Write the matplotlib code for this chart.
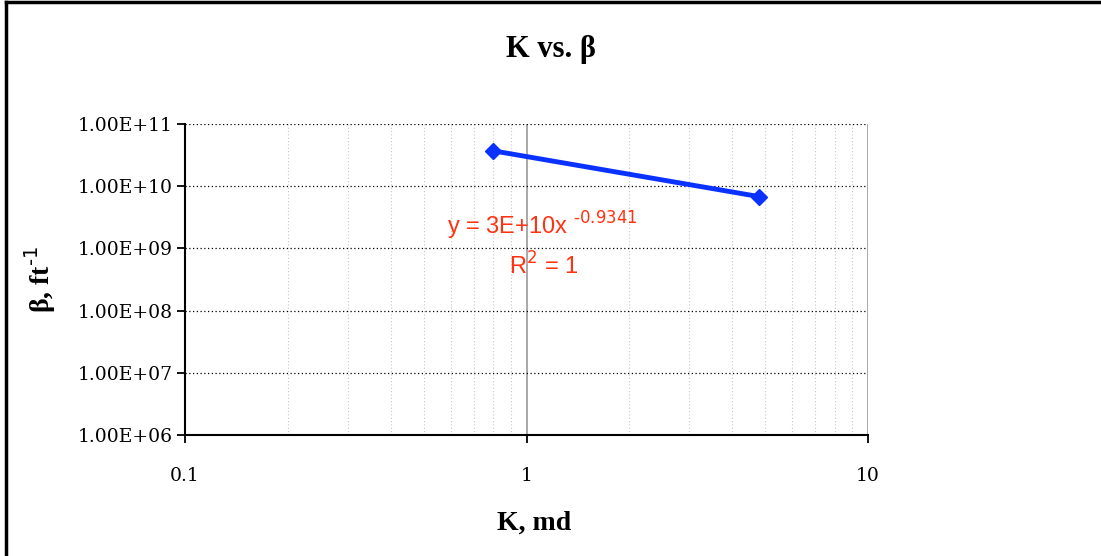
import numpy as np
import matplotlib
matplotlib.use('Agg')
import matplotlib.pyplot as plt
from matplotlib.ticker import LogLocator, FixedLocator, NullFormatter

# data
K = [0.8, 4.8]
beta = [3.7e10, 6.8e9]
y_ticks = [1e6, 1e7, 1e8, 1e9, 1e10, 1e11]
y_labels = ['1.00E+06', '1.00E+07', '1.00E+08', '1.00E+09', '1.00E+10', '1.00E+11']
x_ticks = [0.1, 1, 10]
x_labels = ['0.1', '1', '10']
eq_text = r'y = 3E+10x $^{\text{-0.9341}}$'
r2_text = 'R$^2$ = 1'

fig = plt.figure(figsize=(11.01, 5.56), dpi=100)
ax = fig.add_axes([185/1101, 1-435/556, 683/1101, 311/556])

ax.set_xscale('log')
ax.set_yscale('log')
ax.set_xlim(0.1, 10)
ax.set_ylim(1e6, 1e11)

# minor vertical grid
ax.xaxis.set_minor_locator(LogLocator(base=10, subs=np.arange(2, 10)))
ax.xaxis.set_minor_formatter(NullFormatter())
ax.grid(True, which='minor', axis='x', color='#c8c8c8', linestyle=(0, (1, 2)), linewidth=0.8)
ax.grid(True, which='major', axis='x', color='#999999', linestyle='-', linewidth=1.2)
ax.grid(True, which='major', axis='y', color='black', linestyle=(0, (1, 2)), linewidth=0.9)
ax.yaxis.set_minor_locator(FixedLocator([]))

ax.set_yticks(y_ticks)
ax.set_yticklabels(y_labels, fontfamily='DejaVu Serif', fontsize=13.5)
ax.set_xticks(x_ticks)
ax.set_xticklabels(x_labels, fontfamily='DejaVu Serif', fontsize=13.5)
ax.tick_params(axis='both', which='major', direction='out', length=6, width=1.3, colors='black')
ax.tick_params(axis='y', pad=3)
ax.tick_params(axis='x', pad=17)
ax.tick_params(axis='x', which='minor', length=0)

for s in ['top', 'right']:
    ax.spines[s].set_visible(False)
for s in ['left', 'bottom']:
    ax.spines[s].set_linewidth(1.5)

ax.plot(K, beta, color='#0a32ff', linewidth=3.5, marker='D', markersize=8)

ax.text(0.585, 2.3e9, eq_text, color='#ff3311', fontsize=17, fontfamily='Liberation Sans', va='center')
ax.text(0.89, 5.2e8, r2_text, color='#ff3311', fontsize=17, fontfamily='Liberation Sans', va='center')

fig.text(551/1101, 1-50/556, 'K vs. β', ha='center', va='center', fontsize=22,
         fontweight='bold', fontfamily='Liberation Serif')
fig.text(534/1101, 1-523/556, 'K, md', ha='center', va='center', fontsize=20,
         fontweight='bold', fontfamily='Liberation Serif')
fig.text(40/1101, 1-280/556, 'β, ft$^{\\text{-1}}$', ha='center', va='center', fontsize=20,
         fontweight='bold', fontfamily='Liberation Serif', rotation=90)

# outer frame (left and top edges)
fig.add_artist(plt.Line2D([6/1101, 6/1101], [0, 1-1.5/556], color='black', linewidth=2.5, transform=fig.transFigure))
fig.add_artist(plt.Line2D([6/1101, 1], [1-1.5/556, 1-1.5/556], color='black', linewidth=2.5, transform=fig.transFigure))

fig.savefig('out.png', dpi=100)
